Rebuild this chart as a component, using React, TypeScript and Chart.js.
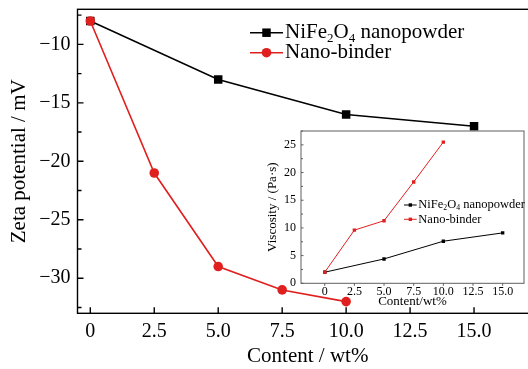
import React, { useEffect, useRef } from 'react';
import { Chart, registerables } from 'chart.js';
Chart.register(...registerables);

// ---- data ----
const contentNiFe = [0, 5, 10, 15];
const zetaNiFe = [-8, -13, -16, -17];
const contentBinder = [0, 2.5, 5, 7.5, 10];
const zetaBinder = [-8, -21, -29, -31, -32];

const viscContentNiFe = [0, 5, 10, 15];
const viscNiFe = [2, 4.4, 7.6, 9.1];
const viscContentBinder = [0, 2.5, 5, 7.5, 10];
const viscBinder = [2, 9.6, 11.3, 18.3, 25.5];

const mainXTicks = [0, 2.5, 5, 7.5, 10, 12.5, 15];
const mainYTicks = [-30, -25, -20, -15, -10];
const insetXTicks = [0, 2.5, 5, 7.5, 10, 12.5, 15];
const insetYTicks = [0, 5, 10, 15, 20, 25];

const seriesLabels = ['NiFe₂O₄ nanopowder', 'Nano-binder'];
const mainXTitle = 'Content / wt%';
const mainYTitle = 'Zeta potential / mV';
const insetXTitle = 'Content/wt%';
const insetYTitle = 'Viscosity / (Pa·s)';

const BLACK = '#000000';
const RED = '#e0201f';
const FONT = '"Liberation Serif", "Times New Roman", serif';

const fmtX = (v: number) => (v === 0 ? '0' : v.toFixed(1));
const fmtY = (v: number) => (v < 0 ? '\u2212' + String(Math.abs(v)) : String(v));

const SUBS = '₀₁₂₃₄₅₆₇₈₉';

function drawRich(ctx: CanvasRenderingContext2D, text: string, x: number, y: number, size: number) {
  ctx.save();
  ctx.textBaseline = 'middle';
  ctx.textAlign = 'left';
  ctx.fillStyle = '#000';
  let cx = x;
  let buf = '';
  const flush = () => {
    if (!buf) return;
    ctx.font = `${size}px ${FONT}`;
    ctx.fillText(buf, cx, y);
    cx += ctx.measureText(buf).width;
    buf = '';
  };
  for (const ch of text) {
    const idx = SUBS.indexOf(ch);
    if (idx >= 0) {
      flush();
      ctx.font = `${size * 0.62}px ${FONT}`;
      const d = String(idx);
      ctx.fillText(d, cx, y + size * 0.26);
      cx += ctx.measureText(d).width;
    } else {
      buf += ch;
    }
  }
  flush();
  ctx.restore();
}

function minorsOf(majors: number[], min: number, max: number) {
  const step = majors[1] - majors[0];
  const out: number[] = [];
  const first = majors[0] - step / 2;
  for (let v = first; v <= max; v += step) {
    if (v >= min) out.push(v);
  }
  return out;
}

function framePlugin(id: string, opts: any) {
  return {
    id,
    afterDatasetsDraw(chart: any) {
      const { ctx, chartArea: a, scales } = chart;
      ctx.save();
      ctx.strokeStyle = opts.color;
      ctx.lineWidth = opts.lw;
      ctx.strokeRect(a.left, a.top, a.right - a.left, a.bottom - a.top);
      ctx.beginPath();
      const xDir = opts.xOut ? 1 : -1;
      for (const v of opts.xTicks) {
        const px = scales.x.getPixelForValue(v);
        ctx.moveTo(px, a.bottom);
        ctx.lineTo(px, a.bottom + xDir * opts.major);
      }
      for (const v of opts.yTicks) {
        const py = scales.y.getPixelForValue(v);
        ctx.moveTo(a.left, py);
        ctx.lineTo(a.left + opts.major, py);
      }
      for (const v of minorsOf(opts.yTicks, scales.y.min, scales.y.max)) {
        const py = scales.y.getPixelForValue(v);
        ctx.moveTo(a.left, py);
        ctx.lineTo(a.left + opts.minor, py);
      }
      ctx.stroke();
      ctx.restore();
      // legend
      const ds = chart.data.datasets;
      const L = opts.legend;
      const order = [1, 0];
      order.forEach((di: number, row: number) => {
        const d = ds[di];
        const y = L.y + row * L.dy;
        ctx.save();
        ctx.strokeStyle = d.borderColor;
        ctx.lineWidth = L.lw;
        ctx.beginPath();
        ctx.moveTo(L.x0, y);
        ctx.lineTo(L.x1, y);
        ctx.stroke();
        ctx.fillStyle = d.backgroundColor;
        const mx = (L.x0 + L.x1) / 2;
        if (d.pointStyle === 'circle') {
          ctx.beginPath();
          ctx.arc(mx, y, d.pointRadius, 0, Math.PI * 2);
          ctx.fill();
        } else {
          const s = d.pointRadius * Math.SQRT1_2;
          ctx.fillRect(mx - s, y - s, 2 * s, 2 * s);
        }
        ctx.restore();
        drawRich(ctx, d.label, L.tx, y, L.size);
      });
    },
  };
}

const noPadX = (h: number) => (s: any) => { s.height = h; s.paddingLeft = 0; s.paddingRight = 0; };
const noPadY = (w: number) => (s: any) => { s.width = w; s.paddingTop = 0; s.paddingBottom = 0; };

export default function App() {
  const mainRef = useRef<HTMLCanvasElement>(null);
  const insetRef = useRef<HTMLCanvasElement>(null);

  useEffect(() => {
    const main = new Chart(mainRef.current!, {
      type: 'line',
      data: {
        datasets: [
          {
            label: seriesLabels[1],
            data: contentBinder.map((x, i) => ({ x, y: zetaBinder[i] })),
            borderColor: RED,
            backgroundColor: RED,
            borderWidth: 1.6,
            pointStyle: 'circle',
            pointRadius: 4.8,
            pointBorderWidth: 0,
            order: 0,
          } as any,
          {
            label: seriesLabels[0],
            data: contentNiFe.map((x, i) => ({ x, y: zetaNiFe[i] })),
            borderColor: BLACK,
            backgroundColor: BLACK,
            borderWidth: 1.5,
            pointStyle: 'rect',
            pointRadius: 6,
            pointBorderWidth: 0,
            order: 1,
          } as any,
        ],
      },
      options: {
        responsive: false,
        animation: false,
        layout: { padding: { top: 9.3, right: 0, left: 0, bottom: 0 } },
        plugins: { legend: { display: false }, tooltip: { enabled: false } },
        scales: {
          x: {
            type: 'linear',
            min: -0.5,
            max: 17.5,
            afterBuildTicks: (s: any) => { s.ticks = mainXTicks.map((v) => ({ value: v })); },
            afterFit: noPadX(55.7),
            grid: { display: false, drawTicks: false, tickLength: 0 },
            border: { display: false },
            ticks: {
              font: { family: FONT, size: 20 },
              color: '#000',
              padding: 6,
              maxRotation: 0,
              autoSkip: false,
              callback: (v: any) => fmtX(Number(v)),
            },
            title: { display: true, text: mainXTitle, font: { family: FONT, size: 21 }, color: '#000', padding: { top: 0, bottom: 0 } },
          },
          y: {
            type: 'linear',
            min: -33,
            max: -7,
            afterBuildTicks: (s: any) => { s.ticks = mainYTicks.map((v) => ({ value: v })); },
            afterFit: noPadY(77.5),
            grid: { display: false, drawTicks: false, tickLength: 0 },
            border: { display: false },
            ticks: {
              font: { family: FONT, size: 20 },
              color: '#000',
              padding: 7,
              callback: (v: any) => fmtY(Number(v)),
            },
            title: { display: true, text: mainYTitle, font: { family: FONT, size: 21 }, color: '#000', padding: { top: 7, bottom: 0 } },
          },
        },
      } as any,
      plugins: [
        framePlugin('mainFrame', {
          color: '#000', lw: 1.4, major: 6, minor: 4, xOut: false,
          xTicks: mainXTicks, yTicks: mainYTicks,
          legend: { x0: 250, x1: 283, tx: 285, y: 32.7, dy: 20, size: 21, lw: 1.5 },
        }),
      ],
    });

    const inset = new Chart(insetRef.current!, {
      type: 'line',
      data: {
        datasets: [
          {
            label: seriesLabels[1],
            data: viscContentBinder.map((x, i) => ({ x, y: viscBinder[i] })),
            borderColor: RED,
            backgroundColor: RED,
            borderWidth: 1,
            pointStyle: 'rect',
            pointRadius: 2.4,
            pointBorderWidth: 0,
            order: 0,
          } as any,
          {
            label: seriesLabels[0],
            data: viscContentNiFe.map((x, i) => ({ x, y: viscNiFe[i] })),
            borderColor: BLACK,
            backgroundColor: BLACK,
            borderWidth: 1,
            pointStyle: 'rect',
            pointRadius: 2.4,
            pointBorderWidth: 0,
            order: 1,
          } as any,
        ],
      },
      options: {
        responsive: false,
        animation: false,
        layout: { padding: { top: 6, right: 3, left: 0, bottom: 0 } },
        plugins: { legend: { display: false }, tooltip: { enabled: false } },
        scales: {
          x: {
            type: 'linear',
            min: -2,
            max: 16.8,
            afterBuildTicks: (s: any) => { s.ticks = insetXTicks.map((v) => ({ value: v })); },
            afterFit: noPadX(25.7),
            grid: { display: false, drawTicks: false, tickLength: 0 },
            border: { display: false },
            ticks: {
              font: { family: FONT, size: 12 },
              color: '#000',
              padding: 1.5,
              maxRotation: 0,
              autoSkip: false,
              callback: (v: any) => fmtX(Number(v)),
            },
            title: { display: true, text: insetXTitle, font: { family: FONT, size: 13 }, color: '#000', padding: { top: 0, bottom: 0 } },
          },
          y: {
            type: 'linear',
            min: 0,
            max: 27.5,
            afterBuildTicks: (s: any) => { s.ticks = insetYTicks.map((v) => ({ value: v })); },
            afterFit: noPadY(39),
            grid: { display: false, drawTicks: false, tickLength: 0 },
            border: { display: false },
            ticks: {
              font: { family: FONT, size: 12 },
              color: '#000',
              padding: 5,
              callback: (v: any) => fmtY(Number(v)),
            },
            title: { display: true, text: insetYTitle, font: { family: FONT, size: 13 }, color: '#000', padding: { top: 3, bottom: 0 } },
          },
        },
      } as any,
      plugins: [
        framePlugin('insetFrame', {
          color: '#5e5e5e', lw: 1, major: 2.5, minor: 2, xOut: true,
          xTicks: insetXTicks, yTicks: insetYTicks,
          legend: { x0: 142, x1: 154.7, tx: 156.3, y: 80, dy: 14.3, size: 12.5, lw: 1 },
        }),
      ],
    });

    return () => {
      main.destroy();
      inset.destroy();
    };
  }, []);

  return (
    <div style={{ position: 'fixed', left: 0, top: 0, width: 528, height: 369, overflow: 'hidden', background: '#fff' }}>
      <canvas ref={mainRef} width={544} height={369} style={{ position: 'absolute', left: 0, top: 0, width: 544, height: 369 }} />
      <canvas ref={insetRef} width={266} height={184} style={{ position: 'absolute', left: 262, top: 125, width: 266, height: 184 }} />
    </div>
  );
}
